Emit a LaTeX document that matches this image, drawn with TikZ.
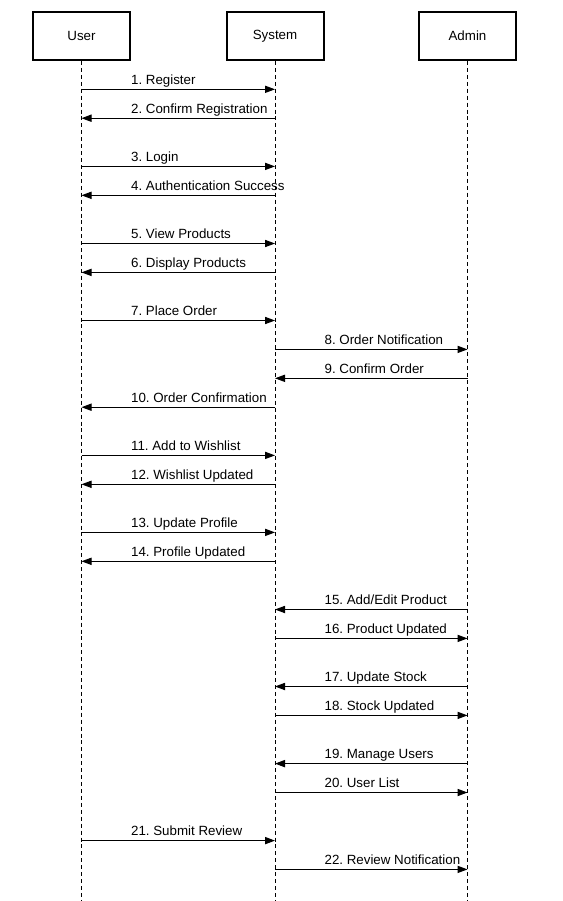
\documentclass[tikz,border=0pt]{standalone}
\usepackage{fontspec}
\setmainfont{Liberation Sans}
\usetikzlibrary{arrows.meta}
\begin{document}
\frenchspacing
\begin{tikzpicture}[x=0.75pt,y=-0.75pt,
  actor/.style={draw=black,line width=1.5pt,minimum width=72.75pt,minimum height=36pt,inner sep=0pt,font=\fontsize{10pt}{12pt}\selectfont},
  lifeline/.style={draw=black,line width=0.75pt,dash pattern=on 3pt off 2.2pt},
  msg/.style={draw=black,line width=0.75pt,-{Triangle[length=7.5pt,width=5.4pt]}},
  lbl/.style={inner sep=0pt,anchor=base west,font=\fontsize{10pt}{12pt}\selectfont}]
\useasboundingbox (0,0) rectangle (562,901);
\node[actor] (user) at (81.5,36) {User};
\node[actor] (system) at (275,36) {System};
\node[actor] (admin) at (467.5,36) {Admin};
\coordinate (userEnd) at (82,901);
\coordinate (systemEnd) at (275,901);
\coordinate (adminEnd) at (467.5,901);
\draw[lifeline] (user.south) -- (user.south |- userEnd);
\draw[lifeline] (system.south) -- (systemEnd);
\draw[lifeline] (admin.south) -- (admin.south |- adminEnd);
\foreach \y/\a/\b/\l/\t in {
  89.3/user/system/user/{1. Register},
  118.2/system/user/user/{2. Confirm Registration},
  166.4/user/system/user/{3. Login},
  195.3/system/user/user/{4. Authentication Success},
  243.5/user/system/user/{5. View Products},
  272.4/system/user/user/{6. Display Products},
  320.5/user/system/user/{7. Place Order},
  349.4/system/admin/system/{8. Order Notification},
  378.3/admin/system/system/{9. Confirm Order},
  407.2/system/user/user/{10. Order Confirmation},
  455.4/user/system/user/{11. Add to Wishlist},
  484.3/system/user/user/{12. Wishlist Updated},
  532.4/user/system/user/{13. Update Profile},
  561.3/system/user/user/{14. Profile Updated},
  609.5/admin/system/system/{15. Add/Edit Product},
  638.4/system/admin/system/{16. Product Updated},
  686.5/admin/system/system/{17. Update Stock},
  715.4/system/admin/system/{18. Stock Updated},
  763.6/admin/system/system/{19. Manage Users},
  792.5/system/admin/system/{20. User List},
  840.6/user/system/user/{21. Submit Review},
  869.4/system/admin/system/{22. Review Notification}} {
  \draw[msg] (\a.south |- 0,\y) -- (\b.south |- 0,\y);
  \node[lbl] at ([xshift=37pt,yshift=3.9pt]\l.south |- 0,\y) {\t};
}
\end{tikzpicture}
\end{document}
